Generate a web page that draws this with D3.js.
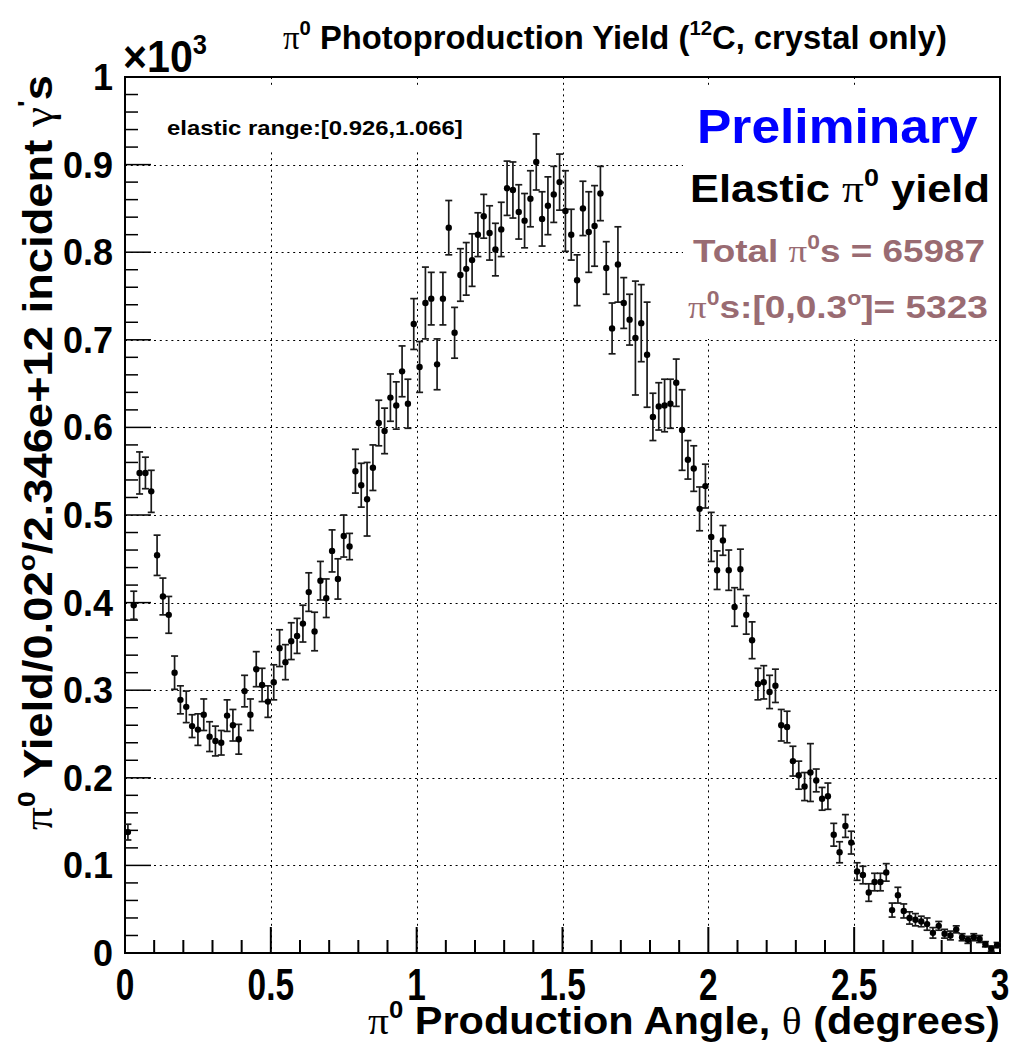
<!DOCTYPE html>
<html>
<head>
<meta charset="utf-8">
<script src="https://cdn.jsdelivr.net/npm/d3@7"></script>
<style>
  html, body { margin: 0; padding: 0; background: #fff; }
  svg { display: block; }
  text { font-family: "Liberation Sans", Arial, Helvetica, sans-serif; font-weight: bold; }
  .greek { font-family: "Liberation Serif", "DejaVu Serif", serif; font-weight: normal; }
</style>
</head>
<body>
<svg id="chart" width="1016" height="1050"></svg>
<script>
// pi0 photoproduction yield on 12C: 0.02 degree bins from 0 to 3 degrees
const binCenters = [
  0.01,0.03,0.05,0.07,0.09,0.11,0.13,0.15,0.17,0.19,
  0.21,0.23,0.25,0.27,0.29,0.31,0.33,0.35,0.37,0.39,
  0.41,0.43,0.45,0.47,0.49,0.51,0.53,0.55,0.57,0.59,
  0.61,0.63,0.65,0.67,0.69,0.71,0.73,0.75,0.77,0.79,
  0.81,0.83,0.85,0.87,0.89,0.91,0.93,0.95,0.97,0.99,
  1.01,1.03,1.05,1.07,1.09,1.11,1.13,1.15,1.17,1.19,
  1.21,1.23,1.25,1.27,1.29,1.31,1.33,1.35,1.37,1.39,
  1.41,1.43,1.45,1.47,1.49,1.51,1.53,1.55,1.57,1.59,
  1.61,1.63,1.65,1.67,1.69,1.71,1.73,1.75,1.77,1.79,
  1.81,1.83,1.85,1.87,1.89,1.91,1.93,1.95,1.97,1.99,
  2.01,2.03,2.05,2.07,2.09,2.11,2.13,2.15,2.17,2.19,
  2.21,2.23,2.25,2.27,2.29,2.31,2.33,2.35,2.37,2.39,
  2.41,2.43,2.45,2.47,2.49,2.51,2.53,2.55,2.57,2.59,
  2.61,2.63,2.65,2.67,2.69,2.71,2.73,2.75,2.77,2.79,
  2.81,2.83,2.85,2.87,2.89,2.91,2.93,2.95,2.97,2.99
];

// yield per bin, in units of 10^3
const yieldValues = [
  0.138,0.397,0.548,0.548,0.527,0.454,0.407,0.386,0.320,0.289,
  0.281,0.259,0.255,0.272,0.247,0.242,0.240,0.271,0.260,0.244,
  0.299,0.272,0.324,0.306,0.287,0.309,0.348,0.332,0.356,0.362,
  0.376,0.412,0.367,0.425,0.405,0.459,0.427,0.476,0.464,0.550,
  0.534,0.518,0.554,0.605,0.596,0.634,0.625,0.664,0.627,0.718,
  0.669,0.742,0.747,0.672,0.747,0.828,0.708,0.774,0.781,0.791,
  0.820,0.841,0.822,0.803,0.826,0.873,0.871,0.846,0.836,0.861,
  0.903,0.838,0.853,0.866,0.880,0.847,0.820,0.768,0.850,0.823,
  0.830,0.867,0.782,0.713,0.786,0.742,0.723,0.702,0.719,0.683,
  0.612,0.624,0.625,0.627,0.651,0.597,0.563,0.553,0.507,0.533,
  0.475,0.437,0.471,0.437,0.395,0.438,0.386,0.357,0.307,0.309,
  0.298,0.305,0.260,0.258,0.219,0.203,0.190,0.206,0.197,0.176,
  0.179,0.135,0.115,0.145,0.126,0.093,0.089,0.069,0.081,0.081,
  0.092,0.049,0.066,0.048,0.040,0.038,0.036,0.033,0.023,0.031,
  0.022,0.020,0.027,0.018,0.015,0.018,0.016,0.010,0.005,0.009
];

// statistical uncertainty per bin, same units
const yieldErrors = [
  0.009,0.016,0.024,0.018,0.024,0.023,0.021,0.021,0.019,0.016,
  0.018,0.013,0.018,0.018,0.017,0.017,0.014,0.018,0.018,0.017,
  0.018,0.018,0.020,0.019,0.018,0.020,0.021,0.020,0.021,0.020,
  0.021,0.022,0.022,0.022,0.022,0.024,0.023,0.024,0.015,0.025,
  0.025,0.042,0.026,0.026,0.026,0.027,0.027,0.029,0.028,0.029,
  0.029,0.041,0.030,0.029,0.030,0.031,0.029,0.030,0.030,0.030,
  0.025,0.025,0.031,0.030,0.031,0.031,0.032,0.031,0.031,0.032,
  0.032,0.031,0.033,0.032,0.032,0.046,0.029,0.029,0.031,0.046,
  0.046,0.031,0.030,0.029,0.043,0.029,0.029,0.065,0.044,0.060,
  0.027,0.027,0.030,0.028,0.027,0.046,0.022,0.026,0.025,0.025,
  0.028,0.022,0.017,0.023,0.022,0.023,0.022,0.021,0.018,0.019,
  0.019,0.019,0.018,0.018,0.017,0.016,0.016,0.033,0.013,0.013,
  0.015,0.013,0.012,0.013,0.013,0.010,0.010,0.010,0.010,0.010,
  0.010,0.008,0.009,0.008,0.007,0.007,0.006,0.007,0.006,0.005,
  0.005,0.005,0.004,0.004,0.004,0.004,0.004,0.003,0.003,0.003
];

const xTickLabels = ["0", "0.5", "1", "1.5", "2", "2.5", "3"];
const yTickLabels = ["0", "0.1", "0.2", "0.3", "0.4", "0.5", "0.6", "0.7", "0.8", "0.9", "1"];

const svg = d3.select("#chart");
const frame = { left: 125, right: 1000, top: 77, bottom: 953 };

const x = d3.scaleLinear().domain([0, 3]).range([frame.left, frame.right]);
const y = d3.scaleLinear().domain([0, 1]).range([frame.bottom, frame.top]);

// Stretch a text group horizontally so that it spans [x0, x1]
function fitSpan(g, x0, x1, baseline) {
  const bb = g.select("text").node().getBBox();
  const s = (x1 - x0) / bb.width;
  g.attr("transform", `translate(${x0 - bb.x * s},${baseline}) scale(${s},1)`);
}

// Append a text made of runs: {t, sup, greek}
function richText(g, runs, size) {
  const t = g.append("text").attr("x", 0).attr("y", 0).style("font-size", size + "px");
  let raised = false;
  runs.forEach(r => {
    const span = t.append("tspan").text(r.t);
    if (r.greek) span.attr("class", "greek");
    if (r.sup && !raised) { span.attr("dy", -size * 0.42).style("font-size", (size * 0.62) + "px"); raised = true; }
    else if (r.sup) { span.style("font-size", (size * 0.62) + "px"); }
    else if (raised) { span.attr("dy", size * 0.42); raised = false; }
    if (r.color) span.attr("fill", r.color);
  });
  return t;
}

// ---- grid ----
const grid = svg.append("g").attr("stroke", "#000").attr("stroke-width", 1)
  .attr("stroke-dasharray", "2,3.8");
[0.5, 1, 1.5, 2, 2.5].forEach(v => {
  grid.append("line").attr("x1", Math.round(x(v)) + 0.5).attr("x2", Math.round(x(v)) + 0.5)
    .attr("y1", frame.top).attr("y2", frame.bottom);
});
d3.range(1, 10).forEach(i => {
  const v = i / 10;
  grid.append("line").attr("y1", Math.round(y(v)) + 0.5).attr("y2", Math.round(y(v)) + 0.5)
    .attr("x1", frame.left).attr("x2", frame.right);
});

// ---- text panels (opaque white backgrounds) ----
svg.append("rect").attr("x", 140).attr("y", 86).attr("width", 345).attr("height", 64).attr("fill", "#fff");
svg.append("rect").attr("x", 683).attr("y", 86).attr("width", frame.right - 683).attr("height", 253).attr("fill", "#fff");

// ---- frame and axes ----
svg.append("rect").attr("x", frame.left).attr("y", frame.top)
  .attr("width", frame.right - frame.left).attr("height", frame.bottom - frame.top)
  .attr("fill", "none").attr("stroke", "#000").attr("stroke-width", 2);

const xTicks = svg.append("g");
d3.range(0, 31).forEach(i => {
  const v = i / 10;
  const len = (i % 5 === 0) ? 26 : 13;
  xTicks.append("line").attr("x1", x(v)).attr("x2", x(v))
    .attr("y1", frame.bottom).attr("y2", frame.bottom - len)
    .attr("stroke", "#000").attr("stroke-width", 2);
});
const yTicks = svg.append("g");
d3.range(0, 51).forEach(i => {
  const v = i / 50;
  const len = (i % 5 === 0) ? 26 : 13;
  yTicks.append("line").attr("y1", y(v)).attr("y2", y(v))
    .attr("x1", frame.left).attr("x2", frame.left + len)
    .attr("stroke", "#000").attr("stroke-width", 1.5);
});

// tick labels
xTickLabels.forEach((lab, i) => {
  const v = i * 0.5;
  const g = svg.append("g").attr("transform", `translate(${x(v)},1000) scale(0.76,1)`);
  g.append("text").attr("text-anchor", "middle").style("font-size", "44px").text(lab);
});
yTickLabels.forEach((lab, i) => {
  const v = i / 10;
  svg.append("text").attr("x", 113).attr("y", y(v) + 13).attr("text-anchor", "end")
    .style("font-size", "36px").text(lab);
});

// exponent label on the y axis
{
  const g = svg.append("g");
  richText(g, [{ t: "\u00d710" }, { t: "3", sup: true }], 44);
  fitSpan(g, 123, 207, 72);
}

// ---- data: error bars and markers ----
const pts = binCenters.map((c, i) => ({ c, v: yieldValues[i], e: yieldErrors[i] }));
const bars = svg.append("g").attr("stroke", "#1a1a1a").attr("stroke-width", 1.7);
pts.forEach(p => {
  const cx = x(p.c), y0 = y(Math.max(p.v - p.e, 0)), y1 = y(p.v + p.e);
  bars.append("line").attr("x1", cx).attr("x2", cx).attr("y1", y0).attr("y2", y1);
  bars.append("line").attr("x1", cx - 3.5).attr("x2", cx + 3.5).attr("y1", y0).attr("y2", y0);
  bars.append("line").attr("x1", cx - 3.5).attr("x2", cx + 3.5).attr("y1", y1).attr("y2", y1);
});
svg.append("g").selectAll("circle").data(pts).join("circle")
  .attr("cx", d => x(d.c)).attr("cy", d => y(d.v)).attr("r", 3.2).attr("fill", "#000");

// ---- titles ----
{
  const g = svg.append("g");
  richText(g, [{ t: "\u03c0", greek: true }, { t: "0", sup: true }, { t: " Photoproduction Yield (" },
    { t: "12", sup: true }, { t: "C, crystal only)" }], 33);
  fitSpan(g, 283, 947, 49);
}
{
  const g = svg.append("g");
  richText(g, [{ t: "\u03c0", greek: true }, { t: "0", sup: true }, { t: " Production Angle, " },
    { t: "\u03b8", greek: true }, { t: " (degrees)" }], 38);
  fitSpan(g, 368, 1000, 1034);
}
{
  const outer = svg.append("g").attr("transform", "rotate(-90)");
  const g = outer.append("g");
  richText(g, [{ t: "\u03c0", greek: true }, { t: "0", sup: true }, { t: " Yield/0.02" }, { t: "o", sup: true },
    { t: "/2.346e+12 incident " }, { t: "\u03b3", greek: true }, { t: "'", sup: true }, { t: "s" }], 40);
  fitSpan(g, -830, -75, 52);
}

// ---- annotations ----
{
  const g = svg.append("g");
  g.append("text").style("font-size", "21px").text("elastic range:[0.926,1.066]");
  fitSpan(g, 167, 463, 135);
}
{
  const g = svg.append("g");
  g.append("text").style("font-size", "48px").attr("fill", "#0000ff").text("Preliminary");
  fitSpan(g, 697, 978, 143);
}
{
  const g = svg.append("g");
  richText(g, [{ t: "Elastic " }, { t: "\u03c0", greek: true }, { t: "0", sup: true }, { t: " yield" }], 38);
  fitSpan(g, 690, 990, 202);
}
{
  const g = svg.append("g").attr("fill", "#996b72");
  richText(g, [{ t: "Total " }, { t: "\u03c0", greek: true }, { t: "0", sup: true }, { t: "s = 65987" }], 32);
  fitSpan(g, 693, 985, 262);
}
{
  const g = svg.append("g").attr("fill", "#996b72");
  richText(g, [{ t: "\u03c0", greek: true }, { t: "0", sup: true }, { t: "s:[0,0.3" }, { t: "o", sup: true },
    { t: "]= 5323" }], 32);
  fitSpan(g, 688, 988, 318);
}
</script>
</body>
</html>
